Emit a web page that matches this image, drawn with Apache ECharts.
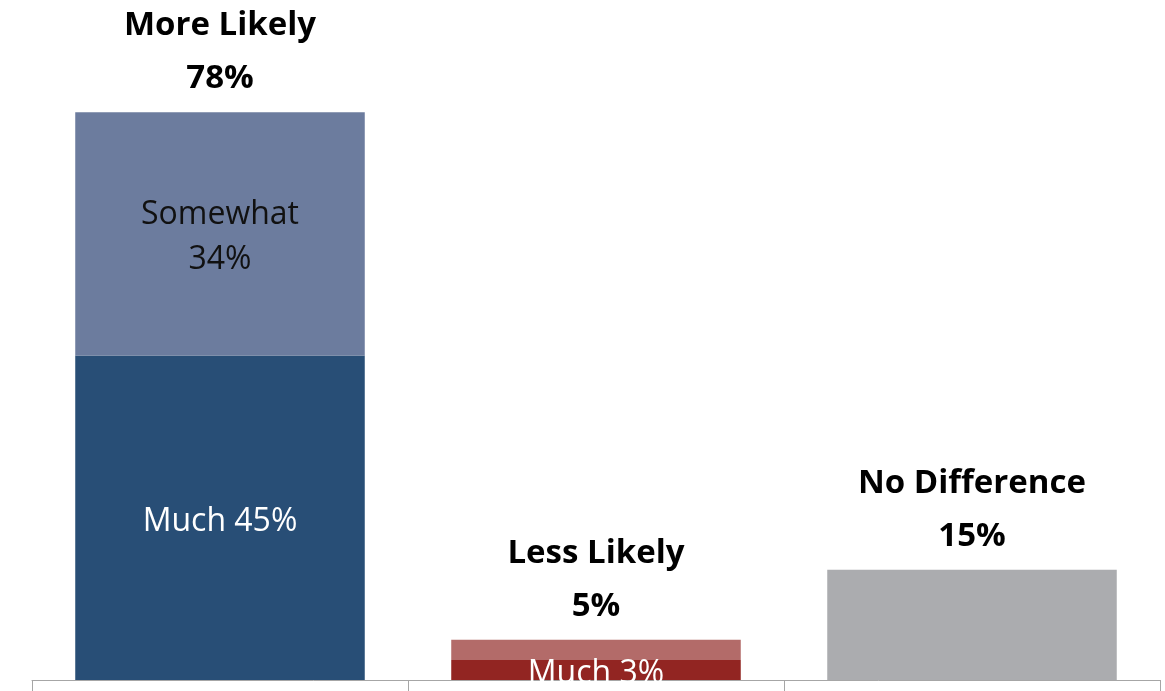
<!DOCTYPE html>
<html>
<head>
<meta charset="utf-8">
<script src="https://cdn.jsdelivr.net/npm/echarts@6/dist/echarts.min.js"></script>
<style>
html,body{margin:0;padding:0;background:#fff;}
#c{width:1165px;height:691px;}
</style>
</head>
<body>
<div id="c"></div>
<script>
const categories = ['More Likely', 'Less Likely', 'No Difference'];
const muchValues = [44.6, 2.75, '-'];
const somewhatValues = [33.4, 2.78, '-'];
const noDiffValues = ['-', '-', 15.15];
const totalLabels = ['78%', '5%', '15%'];
const muchLabels = ['Much 45%', 'Much 3%', ''];
const somewhatLabels = ['Somewhat\n34%', '', ''];

const FONT = '"Open Sans", Lato, sans-serif';

const chart = echarts.init(document.getElementById('c'));
chart.setOption({
  animation: false,
  grid: { left: 32, right: 5, top: 25, bottom: 11 },
  xAxis: {
    type: 'category',
    data: categories,
    axisLine: { show: true, lineStyle: { color: '#a6a6a6', width: 1 } },
    axisTick: { show: true, length: 12, lineStyle: { color: '#a6a6a6' } },
    axisLabel: { show: false }
  },
  yAxis: {
    type: 'value', min: 0, max: 90,
    show: false, splitLine: { show: false }
  },
  series: [
    {
      name: 'Much', type: 'bar', stack: 's', barCategoryGap: '23%',
      data: muchValues,
      itemStyle: {
        color: function (p) { return ['#284e76', '#922522', '#abacaf'][p.dataIndex]; }
      },
      label: {
        show: true, position: 'inside', color: '#ffffff', offset: [0, 4],
        fontFamily: FONT, fontSize: 32,
        formatter: function (p) { return muchLabels[p.dataIndex]; }
      }
    },
    {
      name: 'Somewhat', type: 'bar', stack: 's',
      data: somewhatValues,
      itemStyle: {
        color: function (p) { return ['#6c7c9e', '#b36b69', '#abacaf'][p.dataIndex]; }
      },
      label: {
        show: true, position: 'inside', color: '#111111', offset: [0, 4],
        fontFamily: FONT, fontSize: 32, lineHeight: 45,
        formatter: function (p) { return somewhatLabels[p.dataIndex]; }
      }
    },
    {
      name: 'No Difference', type: 'bar', stack: 's',
      data: noDiffValues,
      itemStyle: { color: '#abacaf' },
      label: { show: false }
    },
    {
      name: 'Total', type: 'bar', stack: 's',
      data: [0, 0, 0],
      itemStyle: { color: 'transparent' },
      label: {
        show: true, position: 'top', distance: 7,
        color: '#000000', fontFamily: FONT, fontSize: 33, fontWeight: 'bold', lineHeight: 53,
        formatter: function (p) { return categories[p.dataIndex] + '\n' + totalLabels[p.dataIndex]; }
      }
    }
  ]
});
</script>
</body>
</html>
